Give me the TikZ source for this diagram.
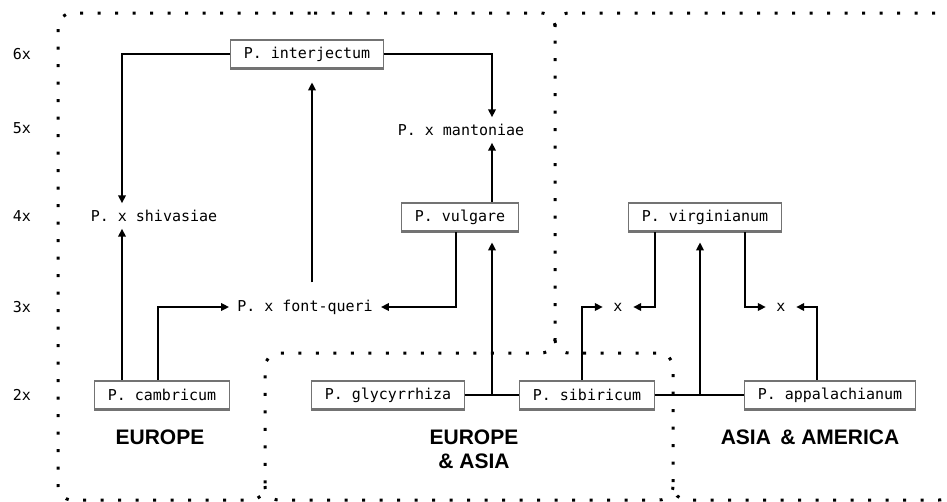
\documentclass[tikz,border=0pt]{standalone}
\usepackage{fontspec}
\setmainfont{Liberation Sans}
\newfontfamily\monofont{DejaVu Sans Mono}
\newcommand\taxfont{\monofont\fontsize{15}{18}\selectfont}
\newcommand\areafont{\bfseries\fontsize{21}{24}\selectfont}
\usetikzlibrary{arrows.meta}
\usetikzlibrary{positioning}

\begin{document}
\begin{tikzpicture}[
x=1pt, y=-1pt,
taxon/.style ={rectangle, draw=black!55, line width=0.8pt,
  font=\taxfont, inner xsep=13pt, inner ysep=0pt,
  minimum height=30pt,
  path picture={\draw[line width=4.4pt]
    (path picture bounding box.north west) -- (path picture bounding box.north east)
    (path picture bounding box.south west) -- (path picture bounding box.south east);}
},
hybrid/.style ={font=\taxfont, inner xsep=8pt, inner ysep=0pt,
  minimum height=25pt},
cross/.style ={hybrid, minimum width=30pt, inner xsep=0pt},
ploidy/.style ={font=\taxfont},
area/.style ={font=\areafont, align=center},
region/.style ={draw, line width=3pt, dash pattern=on 3pt off 14.5pt,
  rounded corners=14pt},
line/.style ={draw, line width=1.8pt, -{Triangle[length=8pt,width=7.5pt]}},
link/.style ={draw, line width=1.8pt}
]
\useasboundingbox (0,0) rectangle (947,501);

% regions
\path[region] (300,13) -- (555,13) -- (555,353) -- (265,353) -- (265,500)
  -- (58,500) -- (58,13) -- cycle;
\path[region] (555,27) -- (555,13) -- (953,13) -- (953,500) -- (673,500)
  -- (673,353) -- (555,353) -- (555,339);
\path[region] (265,486) -- (265,500) -- (673,500) -- (673,486);

% ploidy levels
\node[ploidy] (p6) at (22,54) {6x};
\node[ploidy] (p5) at (22,128) {5x};
\node[ploidy] (p4) at (22,216) {4x};
\node[ploidy] (p3) at (22,307) {3x};
\node[ploidy] (p2) at (22,395) {2x};

% taxa
\node[taxon] (inter) at (307,54) {P. interjectum};
\node[hybrid] (mant) at (461,130) {P. x mantoniae};
\node[hybrid] (shiv) at (154,216) {P. x shivasiae};
\node[taxon] (vulg) at (460,217) {P. vulgare};
\node[taxon] (virg) at (705,217) {P. virginianum};
\node[hybrid] (fontq) at (305,307) {P. x font-queri};
\node[cross] (hyb1) at (618,307) {x};
\node[cross] (hyb2) at (781,307) {x};
\node[taxon] (camb) at (162,395) {P. cambricum};
\node[taxon] (glyc) at (388,395) {P. glycyrrhiza};
\node[taxon] (sibi) at (587,395) {P. sibiricum};
\node[taxon] (appa) at (830,395) {P. appalachianum};

\coordinate (gs) at (492,395);
\coordinate (sa) at (700,395);

% areas
\node[area] (eu) at (160,437) {EUROPE};
\node[area] (euas) at (474,449) {EUROPE\\\& ASIA};
\node[area] (asam) at (810,437) {ASIA \,\& AMERICA};

% connections
\draw[line] (inter.west) -| ([xshift=-32pt]shiv.north);
\draw[line] (inter.east) -| ([xshift=31pt]mant.north);
\draw[line] ([xshift=-40pt]camb.north) -- ([xshift=-32pt]shiv.south);
\draw[line] ([xshift=-4pt]camb.north) |- (fontq.west);
\draw[line, shorten <=12pt, shorten >=13pt] ([xshift=7pt]fontq.north) -- ([xshift=5pt]inter.south);
\draw[line] ([xshift=-4pt]vulg.south) |- (fontq.east);
\draw[line] ([xshift=32pt]vulg.north) -- ([xshift=31pt]mant.south);
\draw[link] (glyc.east) -- (sibi.west);
\draw[link] (sibi.east) -- (appa.west);
\draw[line, shorten >=10pt] (gs) -- ([xshift=32pt]vulg.south);
\draw[line, shorten >=10pt] (sa) -- ([xshift=-5pt]virg.south);
\draw[line] ([xshift=-5pt]sibi.north) |- (hyb1.west);
\draw[line] ([xshift=-50pt]virg.south) |- (hyb1.east);
\draw[line] ([xshift=40pt]virg.south) |- (hyb2.west);
\draw[line] ([xshift=-13pt]appa.north) |- (hyb2.east);
\end{tikzpicture}
\end{document}
